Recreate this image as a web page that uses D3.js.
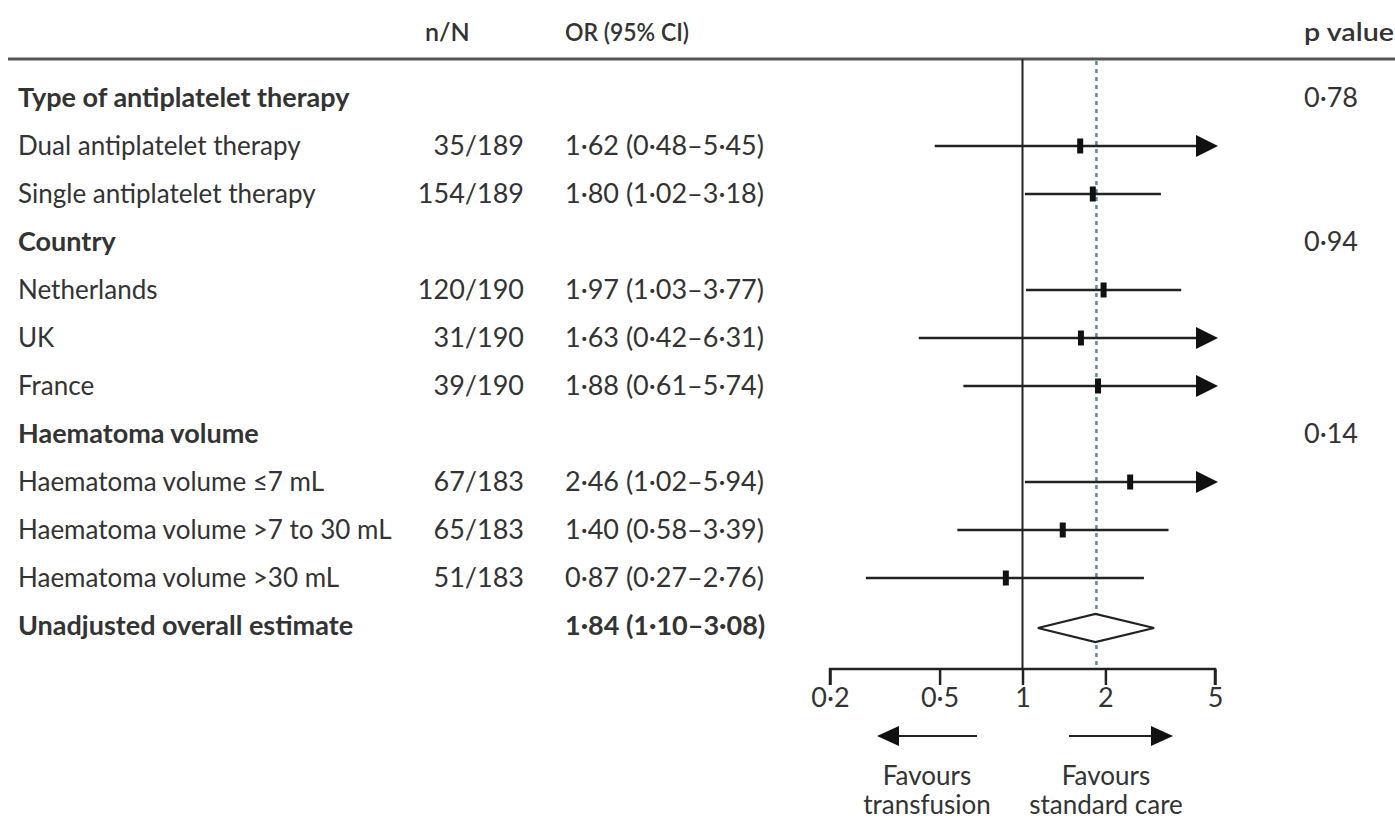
<!DOCTYPE html>
<html><head><meta charset="utf-8">
<script src="https://cdn.jsdelivr.net/npm/d3@7"></script>
<style>
body{margin:0;background:#fff;}
text{font-family:Lato,"Open Sans",sans-serif;fill:#333;}
</style></head>
<body><svg id="c" width="1395" height="823"></svg>
<script>
// ---- data ----
const labels = ["Type of antiplatelet therapy","Dual antiplatelet therapy","Single antiplatelet therapy","Country","Netherlands","UK","France","Haematoma volume","Haematoma volume ≤7 mL","Haematoma volume >7 to 30 mL","Haematoma volume >30 mL","Unadjusted overall estimate"];
const rowType = ["group","item","item","group","item","item","item","group","item","item","item","overall"];
const nN = ["","35/189","154/189","","120/190","31/190","39/190","","67/183","65/183","51/183",""];
const orText = ["","1·62 (0·48–5·45)","1·80 (1·02–3·18)","","1·97 (1·03–3·77)","1·63 (0·42–6·31)","1·88 (0·61–5·74)","","2·46 (1·02–5·94)","1·40 (0·58–3·39)","0·87 (0·27–2·76)","1·84 (1·10–3·08)"];
const orVal = [null,1.62,1.80,null,1.97,1.63,1.88,null,2.46,1.40,0.87,1.84];
const ciLow = [null,0.48,1.02,null,1.03,0.42,0.61,null,1.02,0.58,0.27,1.10];
const ciHigh = [null,5.45,3.18,null,3.77,6.31,5.74,null,5.94,3.39,2.76,3.08];
const pVals = ["0·78","","","0·94","","","","0·14","","","",""];
const tickVals = [0.2,0.5,1,2,5];
const tickLabels = ["0·2","0·5","1","2","5"];
const overallOR = 1.84;

const svg = d3.select("#c");
const x = d3.scaleLog().domain([0.2,5]).range([830,1215]);
const y = d3.scaleLinear().domain([0,11]).range([98,626]);
const fs = 26, fsNum = 27, fsBold = 27, fsHead = 25;

// headers
svg.append("text").attr("x",425).attr("y",41).attr("font-size",fsHead).attr("font-weight",600).text("n/N");
svg.append("text").attr("x",565).attr("y",41).attr("font-size",fsHead).attr("font-weight",600).attr("textLength",124).attr("lengthAdjust","spacingAndGlyphs").text("OR (95% CI)");
svg.append("text").attr("x",1304).attr("y",41).attr("font-size",fsHead).attr("font-weight",600).attr("textLength",90).attr("lengthAdjust","spacingAndGlyphs").text("p value");
svg.append("line").attr("x1",8).attr("x2",1395).attr("y1",59).attr("y2",59).attr("stroke","#555").attr("stroke-width",3);

// rows
const idx = d3.range(labels.length);
const bold = i => rowType[i] !== "item";
svg.selectAll(".lab").data(idx).join("text").attr("class","lab")
  .attr("x",18).attr("y",i=>y(i)).attr("dy","0.35em").attr("font-size",i=>bold(i)?fsBold:fs)
  .attr("font-weight",i=>bold(i)?700:400).text(i=>labels[i]);
svg.selectAll(".nn").data(idx).join("text").attr("class","nn")
  .attr("x",524).attr("y",i=>y(i)).attr("dy","0.35em").attr("font-size",fsNum)
  .attr("text-anchor","end").text(i=>nN[i]);
svg.selectAll(".or").data(idx).join("text").attr("class","or")
  .attr("x",565).attr("y",i=>y(i)).attr("dy","0.35em").attr("font-size",fsNum)
  .attr("font-weight",i=>bold(i)?700:400).text(i=>orText[i]);
svg.selectAll(".pv").data(idx).join("text").attr("class","pv")
  .attr("x",1304).attr("y",i=>y(i)).attr("dy","0.35em").attr("font-size",fsNum).text(i=>pVals[i]);

// reference lines
svg.append("line").attr("x1",x(1)).attr("x2",x(1)).attr("y1",59).attr("y2",669).attr("stroke","#222").attr("stroke-width",2);
svg.append("line").attr("x1",x(overallOR)+1).attr("x2",x(overallOR)+1).attr("y1",61).attr("y2",669)
  .attr("stroke","#5a8c99").attr("stroke-width",2.5).attr("stroke-dasharray","4,4");

// CIs
const items = idx.filter(i=>rowType[i]==="item");
const [xmin,xmax] = x.range();
svg.selectAll(".ci").data(items).join("line").attr("class","ci")
  .attr("x1",i=>Math.max(xmin,x(ciLow[i]))).attr("x2",i=>ciHigh[i]>5?x(5)-18:x(ciHigh[i]))
  .attr("y1",i=>y(i)).attr("y2",i=>y(i)).attr("stroke","#222").attr("stroke-width",2.5);
svg.selectAll(".ah").data(items.filter(i=>ciHigh[i]>5)).join("path").attr("class","ah")
  .attr("d",i=>{const xe=x(5)+3, yy=y(i); return `M${xe-22},${yy-11}L${xe},${yy}L${xe-22},${yy+11}Z`;})
  .attr("fill","#111");
svg.selectAll(".pt").data(items).join("rect").attr("class","pt")
  .attr("x",i=>x(orVal[i])-3).attr("y",i=>y(i)-7.5).attr("width",6).attr("height",15).attr("fill","#111");

// diamond
const oi = idx.filter(i=>rowType[i]==="overall")[0];
svg.append("path").attr("d",()=>{const yy=y(oi)+2;return `M${x(ciLow[oi])+4},${yy}L${x(orVal[oi])},${yy-14}L${x(ciHigh[oi])-3},${yy}L${x(orVal[oi])},${yy+14}Z`;})
  .attr("fill","#fff").attr("stroke","#222").attr("stroke-width",2.2);

// axis
const ax = svg.append("g").attr("transform","translate(0,669)")
  .call(d3.axisBottom(x).tickValues(tickVals).tickFormat((d,i)=>tickLabels[i]).tickSize(16).tickPadding(3));
ax.select(".domain").attr("stroke","#222").attr("stroke-width",2.5).attr("d",`M${xmin},16V0H${xmax}V16`);
ax.selectAll(".tick line").attr("stroke","#222").attr("stroke-width",2.5);
ax.selectAll(".tick text").attr("font-size",fsNum).attr("font-family","Lato,'Open Sans',sans-serif").attr("fill","#333");

// favours arrows
function arrow(x1,x2,yy){
  const dir = Math.sign(x2-x1);
  svg.append("line").attr("x1",x1).attr("x2",x2-dir*18).attr("y1",yy).attr("y2",yy).attr("stroke","#222").attr("stroke-width",2.2);
  svg.append("path").attr("d",`M${x2},${yy}L${x2-dir*22},${yy-10}L${x2-dir*22},${yy+10}Z`).attr("fill","#111");
}
arrow(977,877,736);
arrow(1069,1173,736);
const fav = [["Favours","transfusion",927],["Favours","standard care",1106]];
fav.forEach(f=>{
  svg.append("text").attr("x",f[2]).attr("y",785).attr("text-anchor","middle").attr("font-size",fs).text(f[0]);
  svg.append("text").attr("x",f[2]).attr("y",814).attr("text-anchor","middle").attr("font-size",fs).text(f[1]);
});
</script></body></html>
